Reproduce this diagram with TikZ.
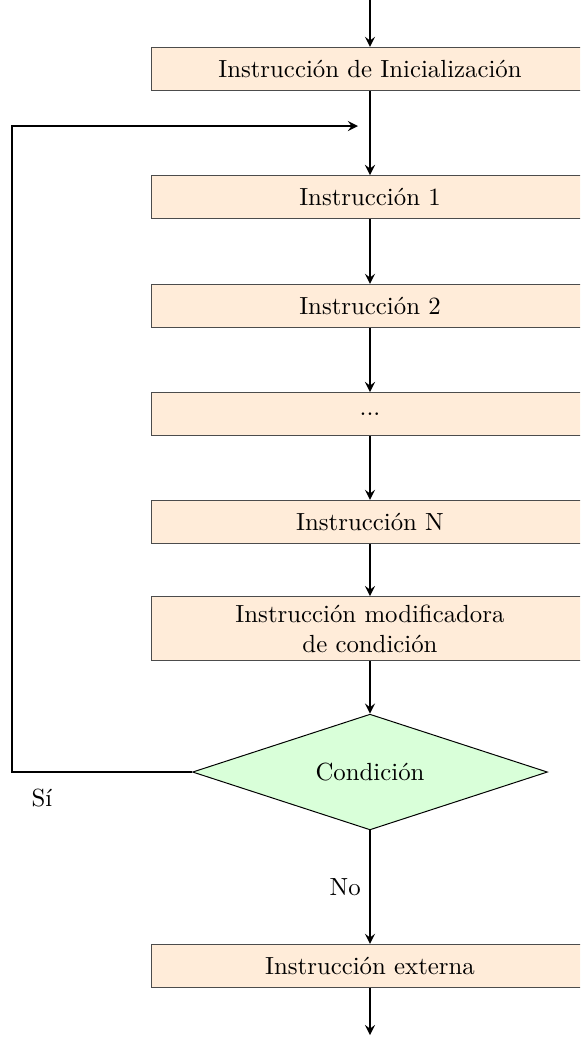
\documentclass[tikz,border=0pt]{standalone}
\usepackage{amsmath,amssymb}
\usepackage{tikz}
\usetikzlibrary{shapes.geometric}
\tikzset{
  instr/.style={rectangle, draw=black!70, fill=orange!15, minimum width=6.18cm,
    minimum height=0.61cm, align=center},
  cond/.style={diamond, aspect=3.06, draw, fill=green!15, minimum width=5.03cm,
    minimum height=1.64cm, inner sep=0pt},
  flow/.style={thick, -stealth}
}
\begin{document}
\begin{tikzpicture}
    \useasboundingbox (-5.243,0.978) rectangle (2.976,-13.745);
    \clip (-5.243,0.978) rectangle (2.976,-13.745);
    % boxes
    \node[instr] (init) at (0,0) {Instrucción de Inicialización};
    \node[instr] (i1) at (0,-1.814) {Instrucción 1};
    \node[instr] (i2) at (0,-3.358) {Instrucción 2};
    \node[instr] (dots) at (0,-4.889) {...};
    \node[instr] (iN) at (0,-6.419) {Instrucción N};
    \node[instr, minimum height=0.88cm] (mod) at (0,-7.93)
      {Instrucción modificadora\\ de condición};
    \node[cond] (cond) at (0,-9.962) {Condición};
    \node[instr] (ext) at (0,-12.71) {Instrucción externa};
    \coordinate (in) at (0,0.978);
    \coordinate (out) at (0,-13.69);
    \coordinate (loopcorner) at (-5.073,-9.962);
    \coordinate (loopend) at (-0.17,-0.808);
    % connectors
    \draw[flow] (in) -- (init);
    \draw[flow] (init) -- (i1);
    \draw[flow] (i1) -- (i2);
    \draw[flow] (i2) -- (dots);
    \draw[flow] (dots) -- (iN);
    \draw[flow] (iN) -- (mod);
    \draw[flow] (mod) -- (cond);
    \draw[flow] (cond) -- node[left] {No} (ext);
    \draw[flow] (ext) -- (out);
    \draw[flow] (cond.west) -- node[pos=0.834, below, yshift=-3pt] {Sí} (loopcorner)
      |- (loopend);
  \end{tikzpicture}
\end{document}
